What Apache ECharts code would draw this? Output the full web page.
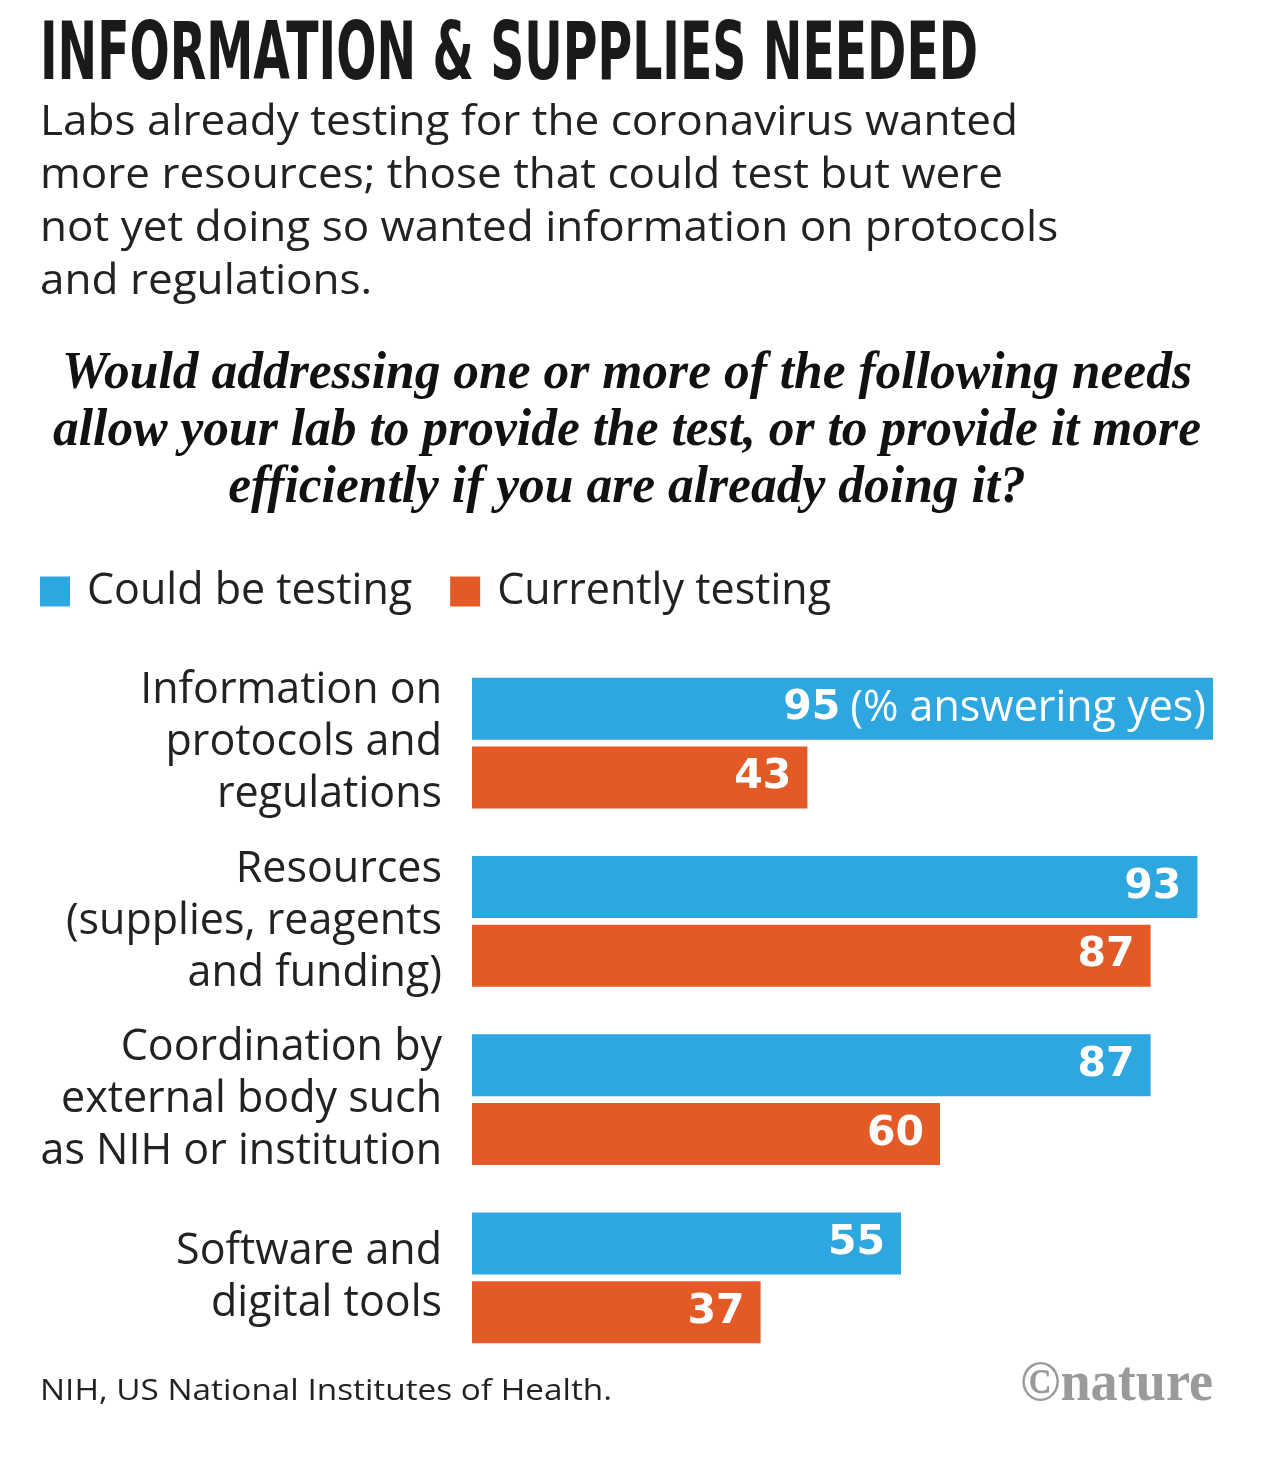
<!DOCTYPE html>
<html>
<head>
<meta charset="utf-8">
<script src="https://cdn.jsdelivr.net/npm/echarts@6/dist/echarts.min.js"></script>
<style>
html,body{margin:0;padding:0;background:#fff;}
#chart{width:1284px;height:1466px;}
</style>
</head>
<body>
<div id="chart"></div>
<script>
const categories = [
  "Information on\nprotocols and\nregulations",
  "Resources\n(supplies, reagents\nand funding)",
  "Coordination by\nexternal body such\nas NIH or institution",
  "Software and\ndigital tools"
];
const seriesNames = ["Could be testing", "Currently testing"];
const couldBeTesting = [95, 93, 87, 55];
const currentlyTesting = [43, 87, 60, 37];

const titleText = 'INFORMATION & SUPPLIES NEEDED';
const subtitleLines = [
  'Labs already testing for the coronavirus wanted',
  'more resources; those that could test but were',
  'not yet doing so wanted information on protocols',
  'and regulations.'
];
const questionLines = [
  'Would addressing one or more of the following needs',
  'allow your lab to provide the test, or to provide it more',
  'efficiently if you are already doing it?'
];
const footnote = 'NIH, US National Institutes of Health.';
const unitNote = '(% answering yes)';

const BLUE = "#2ea6df";
const ORANGE = "#e45a26";
const SANS = "'Open Sans', 'Noto Sans', sans-serif";
const NUM = "'DejaVu Sans', sans-serif";

const ctx = document.createElement('canvas').getContext('2d');
function measure(text, font) { ctx.font = font; return ctx.measureText(text).width; }

const titleFont = "bold 80px 'DejaVu Sans', sans-serif";
const titleScale = 938 / measure(titleText, titleFont);
const subFont = "42px " + SANS;
const subScale = 978 / measure(subtitleLines[0], subFont);
const qFont = "italic bold 52px 'Liberation Serif', serif";
const qScale = 1148 / measure(questionLines[1], qFont);
const footFont = "30px " + SANS;
const footScale = 572 / measure(footnote, footFont);
const natFont = "bold 58px 'Liberation Serif', serif";
const natScale = 193 / measure('©nature', natFont);

const chart = echarts.init(document.getElementById('chart'), null, {renderer: 'canvas'});

const labelBase = {
  show: true,
  position: 'insideRight',
  distance: 16,
  color: '#fff',
  fontFamily: NUM,
  fontWeight: 'bold',
  fontSize: 41
};

const blueData = couldBeTesting.map((v, i) => {
  if (i === 0) {
    return {
      value: v,
      label: {
        distance: 7,
        formatter: '{b|{c}}{n|' + unitNote + '}',
        rich: {
          b: {color: '#fff', fontFamily: NUM, fontWeight: 'bold', fontSize: 41, padding: [0, 10, 0, 0]},
          n: {color: '#fff', fontFamily: SANS, fontWeight: 'normal', fontSize: 43}
        }
      }
    };
  }
  return v;
});

const option = {
  backgroundColor: '#fff',
  animation: false,
  legend: {
    left: 35,
    top: 565,
    icon: 'rect',
    itemWidth: 30,
    itemHeight: 30,
    itemGap: 38,
    textStyle: {fontFamily: SANS, fontSize: 43, color: '#222', padding: [0, 0, 0, 12]},
    data: seriesNames
  },
  grid: {left: 472, width: 780, top: 654, height: 713, containLabel: false},
  xAxis: {type: 'value', min: 0, max: 100, show: false},
  yAxis: {
    type: 'category',
    data: categories,
    inverse: true,
    axisLine: {show: false},
    axisTick: {show: false},
    axisLabel: {
      fontFamily: SANS, fontSize: 43, color: '#222', lineHeight: 52,
      margin: 30, align: 'right'
    }
  },
  series: [
    {name: seriesNames[0], type: 'bar', data: blueData, barWidth: 62, barGap: '11%',
     itemStyle: {color: BLUE}, label: labelBase},
    {name: seriesNames[1], type: 'bar', data: currentlyTesting, barWidth: 62,
     itemStyle: {color: ORANGE}, label: labelBase}
  ],
  graphic: [
    {type: 'text', x: 40, y: 18, scaleX: titleScale,
     style: {x: 0, y: 0, text: titleText, font: titleFont, fill: '#1a1a1a', textAlign: 'left', textVerticalAlign: 'top'}},
    {type: 'text', x: 40, y: 97, scaleX: subScale,
     style: {x: 0, y: 0, text: subtitleLines.join('\n'), font: subFont, lineHeight: 53, fill: '#222', textAlign: 'left', textVerticalAlign: 'top'}},
    {type: 'text', x: 627, y: 346, scaleX: qScale,
     style: {x: 0, y: 0, text: questionLines.join('\n'), font: qFont, lineHeight: 57, fill: '#111', textAlign: 'center', textVerticalAlign: 'top'}},
    {type: 'text', x: 40, y: 1376, scaleX: footScale,
     style: {x: 0, y: 0, text: footnote, font: footFont, fill: '#222', textAlign: 'left', textVerticalAlign: 'top'}},
    {type: 'text', x: 1213, y: 1356, scaleX: natScale,
     style: {x: 0, y: 0, text: '©nature', font: natFont, fill: '#9a9a9a', textAlign: 'right', textVerticalAlign: 'top'}}
  ]
};
chart.setOption(option);
</script>
</body>
</html>
